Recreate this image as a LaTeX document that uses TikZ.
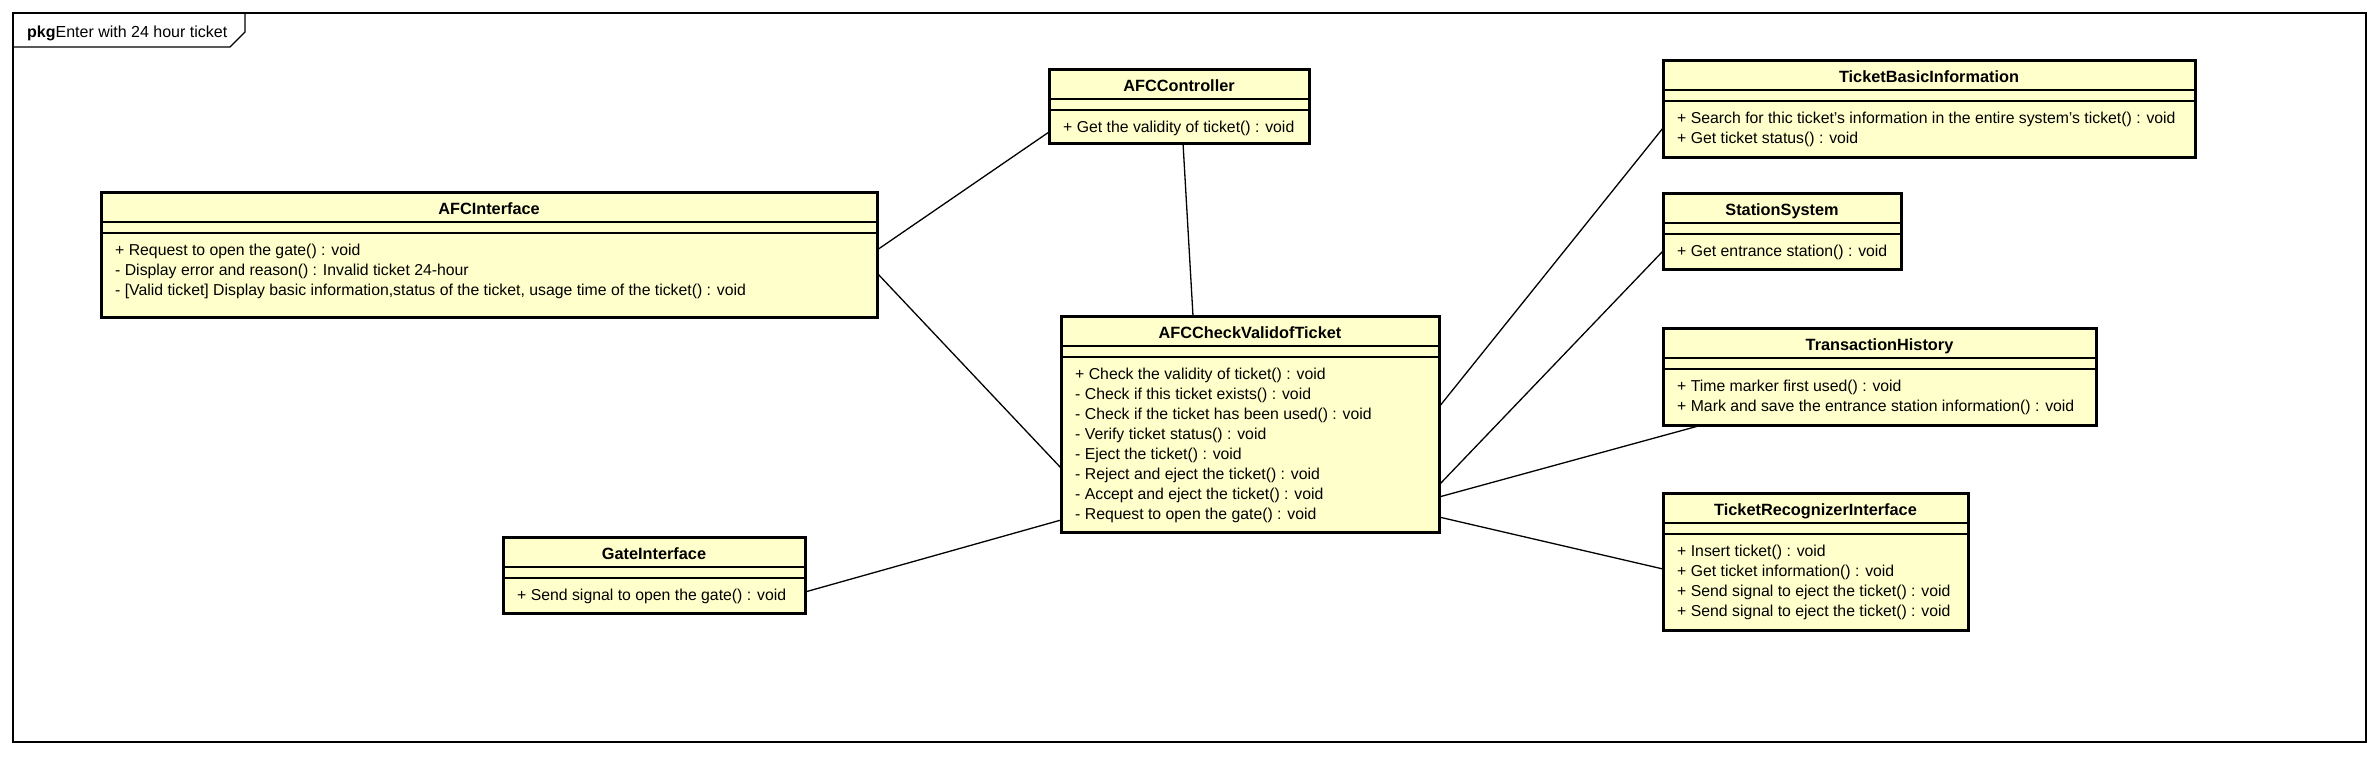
\documentclass[tikz,border=0pt]{standalone}
\usepackage{fontspec}
\setmainfont{Liberation Sans}
\usetikzlibrary{calc}
\definecolor{classfill}{HTML}{FFFFCC}
\tikzset{
  classbox/.style={draw=black, line width=3pt, fill=classfill, inner sep=0pt, outer sep=0pt, rectangle},
  sepline/.style={line width=1.3pt},
  conn/.style={line width=1.3pt},
  titletext/.style={font=\fontsize{16.3}{19}\selectfont\bfseries, inner sep=0pt, anchor=base},
  methtext/.style={font=\fontsize{15.8}{18}\selectfont, inner sep=0pt, anchor=base west},
  framebox/.style={draw=black, line width=1.5pt, inner sep=0pt, outer sep=0pt, rectangle},
}
% #1 name, #2 x1, #3 y1, #4 x2, #5 y2, #6 title, #7 methods
\newcommand\umlcls[7]{%
  \node[classbox, anchor=north west, minimum width={(#4-#2)*1pt}, minimum height={(#5-#3)*1pt}] (#1) at (#2,#3) {};
  \draw[sepline] ([yshift=-30pt]#1.north west) -- ([yshift=-30pt]#1.north east);
  \draw[sepline] ([yshift=-41pt]#1.north west) -- ([yshift=-41pt]#1.north east);
  \node[titletext] (#1-t) at ([yshift=-22.5pt]#1.north) {#6};
  \foreach \m [count=\i] in {#7} {
    \node[methtext] (#1-m\i) at ([xshift=14pt,yshift={-(63.5+20*(\i-1))*1pt}]#1.north west) {\m};
  }
}
\begin{document}
\begin{tikzpicture}[x=1pt,y=-1pt]
\useasboundingbox (0,0) rectangle (2380,756);
% frame
\node[framebox, anchor=north west, minimum width=2353pt, minimum height=729pt] (frame) at (13,13) {};
\draw[line width=1.3pt] ([yshift=-34pt]frame.north west) -- ++(217,0) -- ++(15,-15) -- ([xshift=232pt]frame.north west);
\node[methtext, font=\fontsize{16}{18}\selectfont] (framelabel) at ([xshift=14pt,yshift=-24pt]frame.north west) {\textbf{pkg}Enter with 24 hour ticket};

\umlcls{afci}{101}{192}{877}{317}{AFCInterface}{+ Request to open the gate() : void,- Display error and reason() : Invalid ticket 24-hour,{- [Valid ticket] Display basic information,status of the ticket, usage time of the ticket() : void}}
\umlcls{afcc}{1049}{69}{1309}{143}{AFCController}{+ Get the validity of ticket() : void}
\umlcls{check}{1061}{316}{1439}{532}{AFCCheckValidofTicket}{+ Check the validity of ticket() : void,- Check if this ticket exists() : void,- Check if the ticket has been used() : void,- Verify ticket status() : void,- Eject the ticket() : void,- Reject and eject the ticket() : void,- Accept and eject the ticket() : void,- Request to open the gate() : void}
\umlcls{gate}{503}{537}{805}{613}{GateInterface}{+ Send signal to open the gate() : void}
\umlcls{tbi}{1663}{60}{2195}{157}{TicketBasicInformation}{+ Search for thic ticket's information in the entire system's ticket() : void,+ Get ticket status() : void}
\umlcls{ss}{1663}{193}{1901}{269}{StationSystem}{+ Get entrance station() : void}
\umlcls{th}{1663}{328}{2096}{425}{TransactionHistory}{+ Time marker first used() : void,+ Mark and save the entrance station information() : void}
\umlcls{tri}{1663}{493}{1968}{630}{TicketRecognizerInterface}{+ Insert ticket() : void,+ Get ticket information() : void,+ Send signal to eject the ticket() : void,+ Send signal to eject the ticket() : void}

% connectors
\draw[conn] ([yshift=-58pt]afci.north east) -- ([yshift=-63pt]afcc.north west);
\draw[conn] ([yshift=-81pt]afci.north east) -- ([yshift=-152pt]check.north west);
\draw[conn] ([xshift=134pt]afcc.south west) -- ([xshift=132pt]check.north west);
\draw[conn] ([yshift=-55pt]gate.north east) -- ([yshift=-204pt]check.north west);
\draw[conn] ([yshift=-91pt]check.north east) -- ([yshift=-68pt]tbi.north west);
\draw[conn] ([yshift=-169pt]check.north east) -- ([yshift=-58pt]ss.north west);
\draw[conn] ([yshift=-181pt]check.north east) -- ([xshift=39pt]th.south west);
\draw[conn] ([yshift=-201pt]check.north east) -- ([yshift=-76pt]tri.north west);
\end{tikzpicture}
\end{document}
